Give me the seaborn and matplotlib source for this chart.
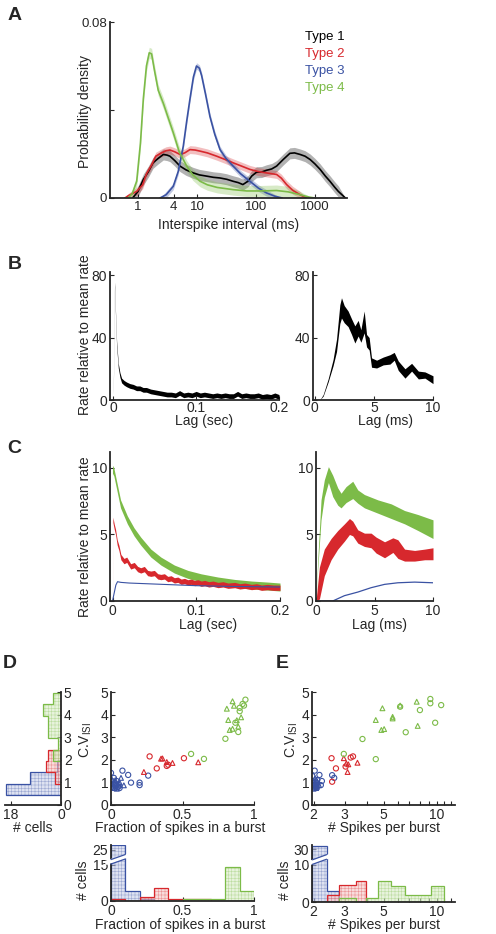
#!/usr/bin/python3

import numpy as np
import pandas as pd
import seaborn as sns
import matplotlib
matplotlib.use('Agg')
from matplotlib import pyplot as plt
from matplotlib import transforms

W, H = 496, 934

C_BLACK = '#000000'
C_RED = '#d7282d'
C_BLUE = '#3a52a3'
C_GREEN = '#7cbb48'

# ---- A: ISI distributions (ms, probability density) ----
isi_t1_x = [0.81, 1.0, 1.23, 1.5, 1.8, 2.2, 2.69, 3.1, 3.48, 4.2, 5.15, 6.5, 8.65, 11, 14.9, 19, 24.6, 32,
            41, 50, 60, 73, 85, 102, 125, 151, 185, 224, 290, 376, 450, 560, 680, 828, 1000, 1226, 1500,
            1800, 2150, 2495, 3290]
isi_t1_y = [0, 0.003, 0.0084, 0.012, 0.016, 0.018, 0.0198, 0.0195, 0.019, 0.017, 0.0145, 0.0128, 0.0114,
            0.0105, 0.0099, 0.0094, 0.0091, 0.0085, 0.0076, 0.007, 0.0061, 0.0076, 0.010, 0.0117, 0.0118,
            0.0126, 0.0132, 0.0145, 0.0175, 0.0203, 0.0205, 0.0198, 0.019, 0.0175, 0.0155, 0.013, 0.010,
            0.0076, 0.005, 0.003, 0.0]
isi_t2_x = [0.6, 0.68, 0.95, 1.2, 1.39, 1.7, 2.0, 2.5, 3.0, 3.48, 4.2, 5.15, 6.2, 7.6, 9.3, 11.3, 15, 21.6,
            30, 41, 57, 79, 110, 151, 224, 270, 331, 420, 560, 720]
isi_t2_y = [0, 0.001, 0.003, 0.006, 0.011, 0.015, 0.019, 0.0205, 0.0215, 0.0218, 0.021, 0.0198, 0.0205,
            0.022, 0.0218, 0.0213, 0.0205, 0.019, 0.0175, 0.016, 0.0145, 0.013, 0.012, 0.0114, 0.0107,
            0.009, 0.0061, 0.0035, 0.0015, 0]
isi_t3_x = [2.36, 3.0, 3.96, 4.8, 5.86, 6.7, 7.6, 8.7, 9.8, 11.0, 12.0, 14.0, 16.6, 20, 24.6, 31, 41, 55,
            79, 110, 151, 210, 280]
isi_t3_y = [0, 0.0015, 0.0053, 0.012, 0.0236, 0.035, 0.045, 0.055, 0.06, 0.059, 0.0556, 0.047, 0.037,
            0.029, 0.022, 0.018, 0.0145, 0.011, 0.0076, 0.0045, 0.0023, 0.0008, 0]
isi_t4_x = [0.6, 0.68, 0.8, 0.95, 1.1, 1.23, 1.39, 1.55, 1.7, 1.9, 2.2, 2.69, 3.2, 3.96, 5.0, 6.7, 8.5,
            11.3, 15, 22, 41, 70, 120, 224, 350, 560, 800, 1000]
isi_t4_y = [0, 0, 0.002, 0.0076, 0.025, 0.045, 0.06, 0.066, 0.0655, 0.058, 0.049, 0.043, 0.037, 0.0297,
            0.021, 0.0145, 0.0105, 0.0076, 0.006, 0.0048, 0.0038, 0.0032, 0.0032, 0.0034, 0.0028, 0.0015,
            0.0004, 0]
isi_sem = [0.0025, 0.0018, 0.0015, 0.0025]
type_names = ['Type 1', 'Type 2', 'Type 3', 'Type 4']

# ---- B: autocorrelation, type 1 ----
lagB_sec = [0, 0.0015, 0.003, 0.004, 0.006, 0.008, 0.010, 0.013, 0.016, 0.02, 0.024, 0.028, 0.032, 0.036,
            0.04, 0.045, 0.05, 0.055, 0.06, 0.065, 0.07, 0.075, 0.08, 0.085, 0.09, 0.095, 0.1, 0.105, 0.11,
            0.115, 0.12, 0.125, 0.13, 0.135, 0.14, 0.145, 0.15, 0.155, 0.16, 0.165, 0.17, 0.175, 0.18,
            0.185, 0.19, 0.195, 0.2]
rateB_sec = [5, 74, 50, 36, 22, 16, 12.5, 11, 10, 9, 8.5, 7.5, 7.5, 6.5, 6.5, 5.5, 5, 4.5, 4, 3.5, 3.5, 3,
             4.5, 3, 3.5, 3, 4, 3, 3.5, 3, 2.5, 3, 2.5, 3, 2.5, 2.5, 4, 2.5, 3, 2.5, 2.5, 3, 2, 2.5, 2, 3, 2]
semB_sec = 1.5
lagB_ms = [0, 0.42, 0.71, 1.13, 1.55, 1.84, 2.12, 2.26, 2.49, 2.82, 3.11, 3.39, 3.67, 3.9, 4.18, 4.38,
           4.6, 4.8, 5.23, 5.79, 6.36, 6.72, 7.06, 7.63, 8.19, 8.76, 9.32, 10.0]
rateB_ms = [0, 0, 3, 12.5, 24, 35, 55, 59, 55, 52, 47, 42, 46, 41, 50, 38, 36, 24, 23, 25, 26, 28, 22, 17,
            21, 16, 16, 13]
semB_ms = [0, 0, 0.5, 1, 2, 4, 6, 6.5, 5.5, 5, 5, 5.5, 5, 4, 7, 4, 4, 3, 2.5, 2.5, 3, 2.5, 3, 3, 2.5, 2.5,
           2, 2.5]

# ---- C: autocorrelation, types 2-4 ----
lagC_sec_green = [0, 0.0016, 0.0056, 0.0096, 0.0177, 0.0257, 0.0337, 0.0458, 0.0578, 0.0739, 0.09, 0.106,
                  0.126, 0.146, 0.166, 0.186, 0.2]
rateC_sec_green = [9.9, 9.7, 8.5, 7.3, 6.1, 5.2, 4.5, 3.6, 3.0, 2.4, 2.0, 1.74, 1.5, 1.32, 1.2, 1.12, 1.05]
lagC_sec_red = [0, 0.0005, 0.002, 0.0036, 0.0056, 0.0076, 0.01, 0.0137, 0.017, 0.0217, 0.026, 0.03,
                0.0337, 0.038, 0.042, 0.0458, 0.05, 0.054, 0.0578, 0.062, 0.066, 0.07, 0.0739, 0.078,
                0.082, 0.086, 0.09, 0.094, 0.098, 0.102, 0.106, 0.11, 0.115, 0.12, 0.126, 0.132, 0.138,
                0.146, 0.152, 0.158, 0.166, 0.172, 0.178, 0.185, 0.192, 0.2]
rateC_sec_red = [0.5, 6.1, 5.6, 5.2, 4.4, 4.0, 3.3, 3.0, 3.1, 2.6, 2.7, 2.4, 2.3, 2.4, 2.1, 2.05, 2.1,
                 1.85, 1.8, 1.85, 1.65, 1.7, 1.55, 1.6, 1.45, 1.5, 1.4, 1.45, 1.35, 1.4, 1.3, 1.35, 1.25,
                 1.3, 1.2, 1.25, 1.15, 1.2, 1.1, 1.15, 1.05, 1.1, 1.0, 1.05, 1.0, 1.0]
lagC_sec_blue = [0, 0.002, 0.004, 0.006, 0.01, 0.02, 0.04, 0.06, 0.08, 0.1, 0.14, 0.2]
rateC_sec_blue = [0, 0.6, 1.2, 1.45, 1.4, 1.35, 1.3, 1.25, 1.2, 1.15, 1.1, 1.05]
semC_sec = [0.3, 0.2]

lagC_ms_green = [0, 0.14, 0.43, 0.71, 1.06, 1.43, 1.86, 2.14, 2.57, 3.14, 3.57, 4.14, 5.29, 6.43, 7.57,
                 8.71, 10]
rateC_ms_green = [0, 2.6, 6.85, 8.45, 9.5, 8.65, 7.85, 7.55, 8.0, 8.35, 7.85, 7.5, 7.1, 6.75, 6.3, 5.9, 5.4]
semC_ms_green = [0, 0.3, 0.75, 0.65, 0.6, 0.8, 0.65, 0.55, 0.6, 0.65, 0.5, 0.5, 0.5, 0.55, 0.5, 0.6, 0.7]
lagC_ms_red = [0, 0.29, 0.71, 1.29, 1.86, 2.43, 2.86, 3.14, 3.57, 4.14, 4.71, 5.14, 5.86, 6.57, 7.0, 7.57,
               8.43, 9.29, 10]
rateC_ms_red = [0, 1.35, 2.9, 3.9, 4.6, 5.15, 5.6, 5.45, 4.85, 4.6, 4.55, 4.2, 3.85, 4.2, 3.9, 3.45, 3.4,
                3.5, 3.55]
semC_ms_red = [0, 1.2, 1.0, 0.8, 0.7, 0.65, 0.6, 0.55, 0.5, 0.5, 0.55, 0.6, 0.6, 0.55, 0.7, 0.45, 0.4,
               0.4, 0.45]
lagC_ms_blue = [0, 1.43, 2.43, 3.57, 4.71, 5.86, 7.0, 8.43, 10]
rateC_ms_blue = [0, 0, 0.4, 0.67, 1.0, 1.25, 1.37, 1.42, 1.37]

# ---- D: fraction of spikes in bursts vs CV ----
fracD_blue_o = [0.0, 0.08, 0.12, 0.14, 0.2, 0.2, 0.26, 0.04, 0.05, 0.02, 0.03, 0.06, 0.01]
cvD_blue_o = [1.42, 1.52, 1.33, 0.99, 0.99, 0.88, 1.3, 1.06, 0.8, 1.2, 0.95, 0.75, 1.05]
fracD_blue_t = [0.07, 0.09, 0.05, 0.02, 0.03, 0.01, 0.04, 0.0, 0.06, 0.03, 0.015, 0.045, 0.025, 0.035,
                0.005, 0.055]
cvD_blue_t = [1.2, 0.87, 0.9, 0.85, 1.0, 0.78, 0.72, 0.95, 1.0, 1.1, 0.9, 0.82, 0.75, 0.88, 1.15, 0.95]
fracD_red_o = [0.27, 0.32, 0.39, 0.51, 0.40]
cvD_red_o = [2.15, 1.62, 1.73, 2.07, 1.78]
fracD_red_t = [0.23, 0.35, 0.36, 0.39, 0.43, 0.61]
cvD_red_t = [1.46, 2.05, 2.06, 1.9, 1.86, 1.89]
fracD_green_o = [0.56, 0.65, 0.80, 0.92, 0.93, 0.94, 0.90, 0.90, 0.87, 0.89]
cvD_green_o = [2.26, 2.04, 2.93, 4.47, 4.40, 4.66, 4.30, 4.15, 3.64, 3.23]
fracD_green_t = [0.81, 0.85, 0.86, 0.82, 0.83, 0.85, 0.91, 0.89, 0.88]
cvD_green_t = [4.26, 4.59, 4.39, 3.76, 3.32, 3.37, 3.88, 3.47, 3.75]

# histogram of CV (left of D)
cv_edges = [0.45, 0.95, 1.45, 1.95, 2.45, 2.95, 3.45, 3.95, 4.45, 4.95]
cv_cnt_blue = [19.8, 11, 1.5, 0, 0, 0, 0, 0, 0]
cv_cnt_red = [0, 2, 5.5, 4.5, 0, 0, 0, 0, 0]
cv_cnt_green = [0, 0, 0, 3, 1, 4.7, 4.7, 6.6, 2.7]

# histogram of burst fraction (below D)
frac_edges = [0, 0.1, 0.2, 0.3, 0.4, 0.5, 0.6, 0.7, 0.8, 0.9, 1.0]
frac_cnt_blue = [28, 4, 1, 0, 0, 0, 0, 0, 0, 0]
frac_cnt_red = [1, 0, 1.5, 5.3, 0.8, 0.8, 0.8, 0, 0, 0]
frac_cnt_green = [0, 0, 0, 0, 0, 0.8, 0.8, 0.8, 14, 4.2]

# ---- E: spikes per burst vs CV ----
spbE_blue_o = [2.03, 2.16, 1.97, 2.23, 2.2, 2.55, 2.62, 2.1]
cvE_blue_o = [1.52, 1.33, 1.28, 1.06, 0.88, 1.32, 1.2, 1.1]
spbE_blue_t = [2.0, 2.05, 2.1, 2.02, 2.08, 2.12, 2.0, 2.04, 2.06, 2.1, 1.99, 2.03, 2.07, 2.15, 2.01, 2.09]
cvE_blue_t = [1.0, 0.9, 0.85, 0.78, 1.1, 0.95, 0.72, 1.18, 0.82, 1.02, 0.9, 0.95, 0.75, 0.88, 1.05, 0.8]
spbE_red_o = [2.53, 2.68, 2.55, 3.04, 3.25, 3.35]
cvE_red_o = [2.07, 1.62, 1.03, 1.70, 2.10, 2.15]
spbE_red_t = [2.97, 3.07, 3.15, 3.12, 3.55]
cvE_red_t = [2.07, 1.84, 1.80, 1.46, 1.87]
spbE_green_o = [2.97, 3.79, 4.51, 6.67, 8.03, 9.2, 9.2, 9.8, 10.6, 6.2]
cvE_green_o = [2.26, 2.92, 2.03, 3.22, 4.2, 4.69, 4.5, 3.64, 4.42, 4.35]
spbE_green_t = [4.51, 4.92, 4.85, 5.03, 5.62, 5.62, 6.2, 7.7, 7.8]
cvE_green_t = [3.76, 4.28, 3.32, 3.36, 3.83, 3.9, 4.4, 4.57, 3.5]

# histogram of spikes per burst (below E)
spb_edges = [1.97, 2.37, 2.8, 3.47, 3.97, 4.65, 5.5, 6.6, 7.8, 9.3, 11.0]
spb_cnt_blue = [35, 3, 0, 0, 0, 0, 0, 0, 0, 0]
spb_cnt_red = [0, 2, 4.5, 5.7, 0, 0, 0, 0, 0, 0]
spb_cnt_green = [0, 0, 1, 0, 1, 5.7, 4.4, 2, 2, 4.4]

LIGHT = {C_BLUE: '#c9cfe8', C_RED: '#f4c6c6', C_GREEN: '#d8ecc6'}


def add_axes_px(fig, x0, y0, x1, y1):
    return fig.add_axes([x0 / W, 1 - y1 / H, (x1 - x0) / W, (y1 - y0) / H])


def style_axis(ax, labelsize=10):
    sns.despine(ax=ax)
    for s in ['left', 'bottom']:
        ax.spines[s].set_linewidth(1.3)
    ax.tick_params(direction='in', length=3, width=0.8, labelsize=labelsize, pad=2)
    ax.patch.set_alpha(0)


def xlabel_px(ax, text, x, y):
    ax.set_xlabel(text, fontsize=10)
    ax.xaxis.set_label_coords(x / W, 1 - y / H, transform=ax.figure.transFigure)
    ax.xaxis.label.set_va('center')


def ylabel_px(ax, text, x, y):
    ax.set_ylabel(text, fontsize=10)
    ax.yaxis.set_label_coords(x / W, 1 - y / H, transform=ax.figure.transFigure)
    ax.yaxis.label.set_va('center')
    ax.yaxis.label.set_ha('center')


def band(ax, x, y, sem, color, alpha=1.0):
    y = np.asarray(y, float)
    sem = np.minimum(np.asarray(sem, float) * np.ones_like(y), y)
    ax.fill_between(x, y - sem, y + sem, color=color, lw=0, alpha=alpha)


def plot_isi(fig):
    ax = add_axes_px(fig, 110, 22, 347, 198)
    curves = [(isi_t1_x, isi_t1_y, C_BLACK), (isi_t2_x, isi_t2_y, C_RED),
              (isi_t3_x, isi_t3_y, C_BLUE), (isi_t4_x, isi_t4_y, C_GREEN)]
    for (x, y, c), sem in zip(curves, isi_sem):
        band(ax, x, y, sem, c, alpha=0.3)
    for x, y, c in curves:
        sns.lineplot(x=x, y=y, color=c, lw=1.2, ax=ax, sort=False)
    ax.set_xscale('log')
    ax.set_xlim(0.335, 3500)
    ax.set_ylim(0, 0.08)
    ax.set_xticks([1, 4, 10, 100, 1000])
    ax.set_xticklabels(['1', '4', '10', '100', '1000'])
    ax.xaxis.set_minor_locator(matplotlib.ticker.NullLocator())
    ax.set_yticks([0, 0.04, 0.08])
    ax.set_yticklabels(['0', '', '0.08'])
    style_axis(ax, labelsize=9.5)
    xlabel_px(ax, 'Interspike interval (ms)', 229, 225)
    ylabel_px(ax, 'Probability density', 85, 112)
    for i, (name, (_, _, c)) in enumerate(zip(type_names, curves)):
        fig.text(305 / W, 1 - (37 + 17 * i) / H, name, color=c, fontsize=9.5, va='center')


def plot_autocorr(fig):
    # B left
    ax = add_axes_px(fig, 110, 272, 279, 400)
    band(ax, lagB_sec, rateB_sec, semB_sec, C_BLACK)
    ax.set_xlim(-0.004, 0.2)
    ax.set_ylim(0, 82)
    ax.set_xticks([0, 0.1, 0.2])
    ax.set_xticklabels(['0', '0.1', '0.2'])
    ax.set_yticks([0, 40, 80])
    style_axis(ax)
    ax.tick_params(axis='x', pad=1)
    xlabel_px(ax, 'Lag (sec)', 204, 421)
    ylabel_px(ax, 'Rate relative to mean rate', 85, 335)

    # B right
    ax = add_axes_px(fig, 313, 272, 433, 400)
    band(ax, lagB_ms, rateB_ms, semB_ms, C_BLACK)
    ax.set_xlim(-0.15, 10)
    ax.set_ylim(0, 82)
    ax.set_xticks([0, 5, 10])
    ax.set_yticks([0, 40, 80])
    style_axis(ax)
    ax.tick_params(axis='x', pad=1)
    xlabel_px(ax, 'Lag (ms)', 385, 421)

    # C left
    ax = add_axes_px(fig, 110, 452, 280, 601)
    band(ax, lagC_sec_green, rateC_sec_green, semC_sec[0], C_GREEN)
    band(ax, lagC_sec_red, rateC_sec_red, semC_sec[1], C_RED)
    sns.lineplot(x=lagC_sec_blue, y=rateC_sec_blue, color=C_BLUE, lw=0.8, ax=ax, sort=False)
    ax.set_xlim(-0.003, 0.2)
    ax.set_ylim(0, 11.2)
    ax.set_xticks([0, 0.1, 0.2])
    ax.set_xticklabels(['0', '0.1', '0.2'])
    ax.set_yticks([0, 5, 10])
    style_axis(ax)
    xlabel_px(ax, 'Lag (sec)', 208, 625)
    ylabel_px(ax, 'Rate relative to mean rate', 85, 537)

    # C right
    ax = add_axes_px(fig, 316, 452, 433, 601)
    band(ax, lagC_ms_green, rateC_ms_green, semC_ms_green, C_GREEN)
    band(ax, lagC_ms_red, rateC_ms_red, semC_ms_red, C_RED)
    sns.lineplot(x=lagC_ms_blue, y=rateC_ms_blue, color=C_BLUE, lw=0.9, ax=ax, sort=False)
    ax.set_xlim(0, 10)
    ax.set_ylim(0, 11.2)
    ax.set_xticks([0, 5, 10])
    ax.set_yticks([0, 5, 10])
    style_axis(ax)
    xlabel_px(ax, 'Lag (ms)', 380, 625)


def hatched_stairs(ax, counts, edges, color, orientation='vertical'):
    ax.stairs(counts, edges, orientation=orientation, fill=True, facecolor=LIGHT[color] + '99',
              edgecolor=color + '66', lw=0, hatch='+++++')
    ax.stairs(counts, edges, orientation=orientation, fill=False, edgecolor=color, lw=0.9)


def scatter_groups(ax, groups):
    for x, y, c, m in groups:
        sns.scatterplot(x=x, y=y, marker=m, color=c, facecolor='none', edgecolor=c,
                        s=14 if m == 'o' else 12, linewidth=0.8, ax=ax, legend=False)


def broken_axis(ax, x_left, x_right, x_bar0, x_bar1, color):
    tr = transforms.blended_transform_factory(ax.transData, ax.transAxes)
    ax.fill([x_left, x_right, x_right, x_left], [0.64, 0.77, 0.85, 0.72], color='white',
            transform=tr, clip_on=False, zorder=5, lw=0)
    for y0, y1 in [(0.64, 0.77), (0.72, 0.85)]:
        ax.plot([x_bar0, x_bar1], [y0 + 0.02, y1 - 0.02], color=color, lw=0.9, transform=tr,
                clip_on=False, zorder=6)


def log_ticks(ax):
    ax.set_xticks([2, 3, 5, 10])
    ax.set_xticklabels(['2', '3', '5', '10'])
    ax.set_xticks([4, 6, 7, 8, 9, 11, 12], minor=True)
    ax.set_xticklabels([], minor=True)
    ax.tick_params(which='minor', direction='in', length=3, width=0.8)


def plot_burst(fig):
    groups_D = [(fracD_blue_o, cvD_blue_o, C_BLUE, 'o'), (fracD_blue_t, cvD_blue_t, C_BLUE, '^'),
                (fracD_red_o, cvD_red_o, C_RED, 'o'), (fracD_red_t, cvD_red_t, C_RED, '^'),
                (fracD_green_o, cvD_green_o, C_GREEN, 'o'), (fracD_green_t, cvD_green_t, C_GREEN, '^')]
    groups_E = [(spbE_blue_o, cvE_blue_o, C_BLUE, 'o'), (spbE_blue_t, cvE_blue_t, C_BLUE, '^'),
                (spbE_red_o, cvE_red_o, C_RED, 'o'), (spbE_red_t, cvE_red_t, C_RED, '^'),
                (spbE_green_o, cvE_green_o, C_GREEN, 'o'), (spbE_green_t, cvE_green_t, C_GREEN, '^')]
    cv_label = 'C.V$_{\\mathrm{ISI}}$'

    # D: CV histogram on the left
    ax = add_axes_px(fig, 5, 692, 61, 805)
    for cnt, c in [(cv_cnt_blue, C_BLUE), (cv_cnt_red, C_RED), (cv_cnt_green, C_GREEN)]:
        hatched_stairs(ax, cnt, cv_edges, c, orientation='horizontal')
    ax.set_xlim(20, 0)
    ax.set_ylim(0, 5)
    ax.set_xticks([18, 0])
    ax.set_yticks([0, 1, 2, 3, 4, 5])
    style_axis(ax)
    ax.spines['left'].set_visible(False)
    ax.spines['right'].set_visible(True)
    ax.spines['right'].set_linewidth(1.3)
    ax.yaxis.tick_right()
    ax.tick_params(axis='y', direction='in', length=3, pad=2)
    xlabel_px(ax, '# cells', 33, 828)

    # D scatter
    ax = add_axes_px(fig, 111, 692, 254, 805)
    scatter_groups(ax, groups_D)
    ax.set_xlim(0, 1)
    ax.set_ylim(0, 5)
    ax.set_xticks([0, 0.5, 1])
    ax.set_xticklabels(['0', '0.5', '1'])
    ax.set_yticks([0, 1, 2, 3, 4, 5])
    style_axis(ax)
    xlabel_px(ax, 'Fraction of spikes in a burst', 180, 828)
    ylabel_px(ax, cv_label, 86, 740)

    # D histogram below
    ax = add_axes_px(fig, 111, 845, 254, 901)
    fwd = lambda y: np.where(y <= 16, y, 16 + (y - 16) * 0.59)
    inv = lambda d: np.where(d <= 16, d, 16 + (d - 16) / 0.59)
    ax.set_yscale('function', functions=(fwd, inv))
    for cnt, c in [(frac_cnt_blue, C_BLUE), (frac_cnt_red, C_RED), (frac_cnt_green, C_GREEN)]:
        hatched_stairs(ax, cnt, frac_edges, c)
    ax.set_xlim(0, 1)
    ax.set_ylim(0, 28.3)
    ax.set_xticks([0, 0.5, 1])
    ax.set_xticklabels(['0', '0.5', '1'])
    ax.set_yticks([0, 15, 25])
    ax.yaxis.set_minor_locator(matplotlib.ticker.NullLocator())
    style_axis(ax)
    broken_axis(ax, -0.04, 0.12, 0.0, 0.1, C_BLUE)
    xlabel_px(ax, 'Fraction of spikes in a burst', 180, 925)
    ylabel_px(ax, '# cells', 83, 880)

    # E scatter
    ax = add_axes_px(fig, 312, 692, 455, 805)
    scatter_groups(ax, groups_E)
    ax.set_xscale('log')
    ax.set_xlim(1.96, 12.7)
    ax.set_ylim(0, 5)
    ax.set_yticks([0, 1, 2, 3, 4, 5])
    style_axis(ax)
    log_ticks(ax)
    xlabel_px(ax, '# Spikes per burst', 384, 828)
    ylabel_px(ax, cv_label, 292, 740)

    # E histogram below
    ax = add_axes_px(fig, 312, 845, 455, 902)
    fwd = lambda y: np.where(y <= 11, y, 11 + (y - 11) * 0.174)
    inv = lambda d: np.where(d <= 11, d, 11 + (d - 11) / 0.174)
    ax.set_xscale('log')
    ax.set_yscale('function', functions=(fwd, inv))
    for cnt, c in [(spb_cnt_blue, C_BLUE), (spb_cnt_red, C_RED), (spb_cnt_green, C_GREEN)]:
        hatched_stairs(ax, cnt, spb_edges, c)
    ax.set_xlim(1.96, 12.7)
    ax.set_ylim(0, 36.3)
    ax.set_yticks([0, 10, 30])
    ax.yaxis.set_minor_locator(matplotlib.ticker.NullLocator())
    style_axis(ax)
    log_ticks(ax)
    broken_axis(ax, 1.88, 2.5, 1.97, 2.37, C_BLUE)
    xlabel_px(ax, '# Spikes per burst', 384, 925)
    ylabel_px(ax, '# cells', 285, 880)


if __name__ == '__main__':
    sns.set_style('ticks')
    plt.rcParams['font.family'] = ['Liberation Sans', 'DejaVu Sans']
    plt.rcParams['mathtext.fontset'] = 'custom'
    plt.rcParams['mathtext.rm'] = 'Liberation Sans'
    plt.rcParams['hatch.linewidth'] = 0.4

    fig = plt.figure(figsize=(W / 100, H / 100), dpi=100)
    plot_isi(fig)
    plot_autocorr(fig)
    plot_burst(fig)

    for letter, x, y in [('A', 15, 15), ('B', 15, 265), ('C', 14, 448), ('D', 10, 664), ('E', 282, 664)]:
        fig.text(x / W, 1 - y / H, letter, fontsize=14, fontweight='bold', ha='center', va='center')

    fig.savefig('out.png', dpi=100)
